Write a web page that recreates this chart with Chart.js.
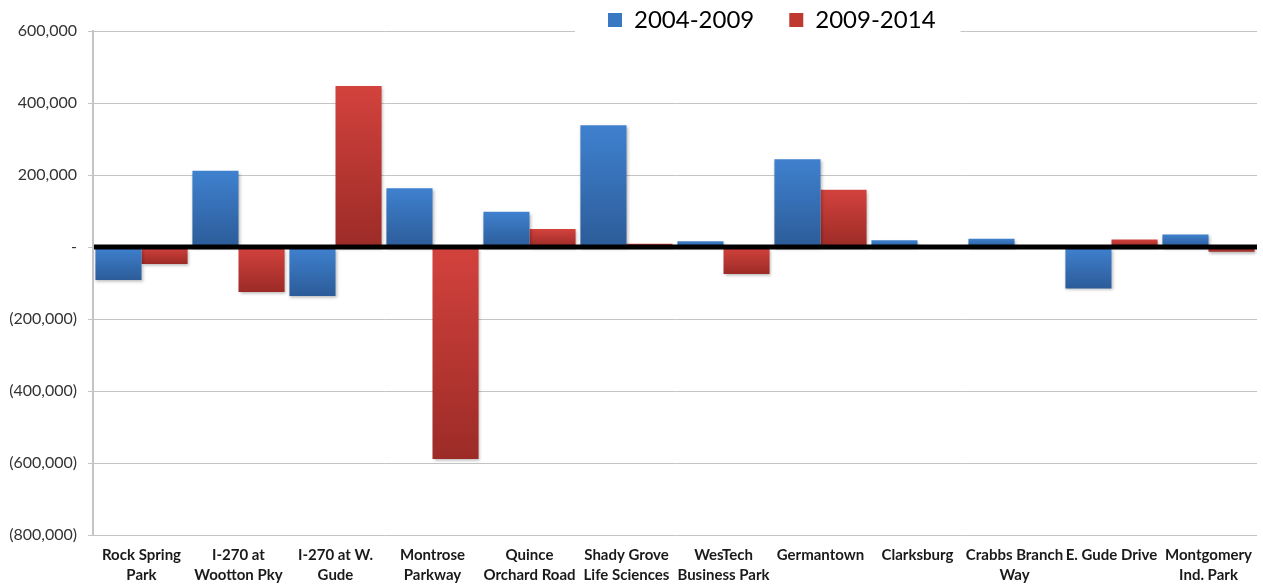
<!DOCTYPE html>
<html>
<head>
<meta charset="utf-8">
<script src="https://cdn.jsdelivr.net/npm/chart.js@4"></script>
<style>
  html, body { margin: 0; padding: 0; background: #fff; }
  #wrap { width: 1263px; height: 586px; position: relative; }
</style>
</head>
<body>
<div id="wrap"><canvas id="chart"></canvas></div>
<script>
// categories (two-line labels as in the original)
var categories = [
  ['Rock Spring', 'Park'],
  ['I-270 at', 'Wootton Pky'],
  ['I-270 at W.', 'Gude'],
  ['Montrose', 'Parkway'],
  ['Quince', 'Orchard Road'],
  ['Shady Grove', 'Life Sciences'],
  ['WesTech', 'Business Park'],
  ['Germantown'],
  ['Clarksburg'],
  ['Crabbs Branch', 'Way'],
  ['E. Gude Drive'],
  ['Montgomery', 'Ind. Park']
];
var seriesNames = ['2004-2009', '2009-2014'];
var values0409 = [-92000, 212000, -136000, 163000, 98000, 338000, 16000, 244000, 19000, 23000, -115000, 35000];
var values0914 = [-47000, -125000, 447000, -589000, 50000, 9000, -75000, 159000, 0, 0, 21000, -13000];
var yMin = -800000, yMax = 600000, yStep = 200000;

var FONT = 'Lato, "Open Sans", sans-serif';

function fmt(v) {
  if (v === 0) return '-';
  var s = Math.abs(v).toLocaleString('en-US');
  return v < 0 ? '(' + s + ')' : s;
}

// vertical gradient per bar, lighter at top, darker at bottom
function barFill(top, bottom) {
  return function (c) {
    var chart = c.chart;
    if (!chart.chartArea || !c.parsed) return top;
    var ys = chart.scales.y, v = c.parsed.y;
    var p0 = ys.getPixelForValue(Math.max(v, 0));
    var p1 = ys.getPixelForValue(Math.min(v, 0));
    if (p1 - p0 < 1) p1 = p0 + 1;
    var g = chart.ctx.createLinearGradient(0, p0, 0, p1);
    g.addColorStop(0, top);
    g.addColorStop(1, bottom);
    return g;
  };
}

var solid = ['#3b78c4', '#c0392f'];

var decor = {
  id: 'decor',
  afterLayout: function (chart) {
    var lg = chart.legend;
    // legend sits over the top gridline, shifted right as in the original
    lg.left = 573; lg.right = 1263; lg.width = lg.right - lg.left;
    lg.top = -27; lg.bottom = 40; lg.height = lg.bottom - lg.top;
  },
  beforeDatasetsDraw: function (chart) {
    var ctx = chart.ctx, hb = chart.legend.legendHitBoxes;
    ctx.save();
    if (hb && hb.length) {
      var last = hb[hb.length - 1];
      ctx.fillStyle = '#fff';
      ctx.fillRect(hb[0].left - 33, chart.chartArea.top - 3, last.left + last.width - hb[0].left + 58, 6);
    }
    ctx.restore();
    ctx.save();
    ctx.shadowColor = 'rgba(0,0,0,0.28)';
    ctx.shadowBlur = 3;
    ctx.shadowOffsetY = 2;
    ctx.shadowOffsetX = 1;
  },
  afterDatasetsDraw: function (chart) {
    var ctx = chart.ctx;
    ctx.restore();
    var y0 = chart.scales.y.getPixelForValue(0);
    ctx.save();
    ctx.strokeStyle = '#000';
    ctx.lineWidth = 5;
    ctx.beginPath();
    ctx.moveTo(chart.chartArea.left + 1, y0);
    ctx.lineTo(chart.chartArea.right, y0);
    ctx.stroke();
    ctx.restore();
  }
};

new Chart(document.getElementById('chart').getContext('2d'), {
  type: 'bar',
  data: {
    labels: categories,
    datasets: [
      { label: seriesNames[0], data: values0409, backgroundColor: barFill('#3f81cf', '#2c5c99'), categoryPercentage: 0.95, barPercentage: 1 },
      { label: seriesNames[1], data: values0914, backgroundColor: barFill('#d3423d', '#9c2b27'), categoryPercentage: 0.95, barPercentage: 1 }
    ]
  },
  options: {
    responsive: true, maintainAspectRatio: false, animation: false,
    layout: { padding: { left: 0, right: 6, top: 0, bottom: 0 } },
    plugins: {
      tooltip: { enabled: false },
      legend: {
        position: 'top', align: 'start', maxHeight: 31,
        labels: {
          boxWidth: 14, boxHeight: 14, padding: 35, color: '#000',
          font: { family: FONT, size: 24 },
          generateLabels: function (chart) {
            var items = Chart.defaults.plugins.legend.labels.generateLabels(chart);
            items.forEach(function (it, i) { it.fillStyle = solid[i]; it.strokeStyle = solid[i]; it.lineWidth = 0; });
            return items;
          }
        }
      }
    },
    scales: {
      x: {
        afterFit: function (s) { s.height = 51; },
        grid: { display: false, drawTicks: false },
        border: { display: false },
        ticks: { color: '#1a1a1a', padding: 10, maxRotation: 0, autoSkip: false, font: { family: FONT, size: 15, weight: 'bold', lineHeight: 1.33 } }
      },
      y: {
        min: yMin, max: yMax,
        afterFit: function (s) { s.width = 93; },
        grid: { color: '#c4c4c4', lineWidth: 1, tickLength: 5 },
        border: { display: true, color: '#c4c4c4', width: 2 },
        ticks: { stepSize: yStep, padding: 11, color: '#333', font: { family: FONT, size: 16 }, callback: function (v) { return fmt(v); } }
      }
    }
  },
  plugins: [decor]
});
</script>
</body>
</html>
